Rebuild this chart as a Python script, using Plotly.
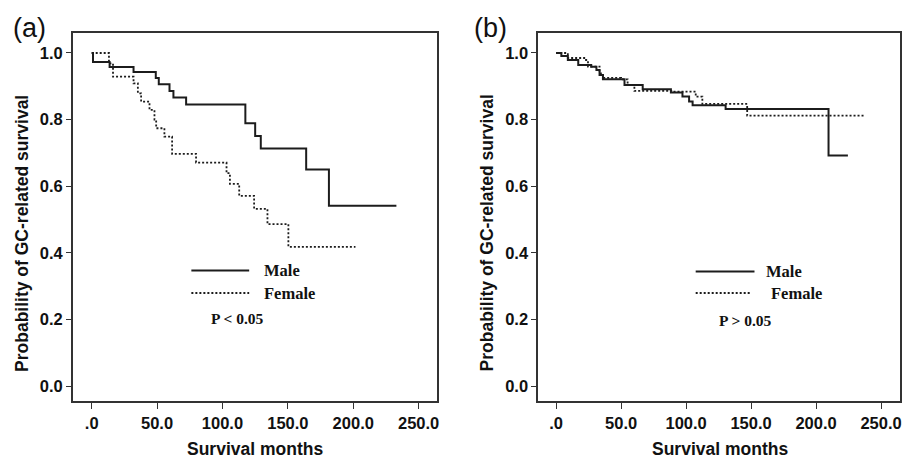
import plotly.graph_objects as go

# ---- data ----
a_male_t = [0, 1, 13.7, 32, 49, 51.3, 59.5, 62.5, 72.2, 117.5, 125, 129.3, 164, 181.4, 233]
a_male_s = [1.0, 0.973, 0.958, 0.943, 0.925, 0.906, 0.886, 0.866, 0.845, 0.789, 0.751, 0.713, 0.65, 0.541, 0.541]

a_female_t = [0, 13.2, 16.3, 32, 35.3, 37.8, 44.2, 48, 49.3, 55.6, 61.5, 79.8, 103.1, 105.7, 112.8, 124.2, 134.4, 150.4, 201.7]
a_female_s = [1.0, 0.969, 0.929, 0.909, 0.879, 0.854, 0.829, 0.80, 0.774, 0.749, 0.697, 0.671, 0.639, 0.607, 0.571, 0.532, 0.486, 0.418, 0.418]

b_male_t = [0, 4, 9, 17, 27, 31, 33.4, 36, 52.6, 66.6, 88.3, 97.2, 102.3, 105, 130.4, 209.6, 224.5]
b_male_s = [1.0, 0.991, 0.979, 0.964, 0.959, 0.949, 0.934, 0.921, 0.904, 0.891, 0.881, 0.869, 0.854, 0.843, 0.832, 0.692, 0.692]

b_female_t = [0, 9, 23, 24.5, 33.4, 36, 50, 55, 60.2, 89.6, 107.4, 112.5, 147, 237.6]
b_female_s = [1.0, 0.985, 0.979, 0.959, 0.939, 0.925, 0.921, 0.904, 0.886, 0.884, 0.869, 0.847, 0.812, 0.812]

x_tickvals = [0, 50, 100, 150, 200, 250]
x_ticktext = [".0", "50.0", "100.0", "150.0", "200.0", "250.0"]
y_tickvals = [0.0, 0.2, 0.4, 0.6, 0.8, 1.0]

W, H = 907, 458
LINE = "#1c1c1c"
SANS = "Liberation Sans, Arial, sans-serif"
SERIF = "Liberation Serif, Times New Roman, serif"


def px(x):
    return x / W


def py(y):
    return 1 - y / H


fig = go.Figure()

fig.add_trace(go.Scatter(x=a_male_t, y=a_male_s, mode="lines", line_shape="hv",
                         line=dict(color=LINE, width=2), xaxis="x", yaxis="y", name="Male"))
fig.add_trace(go.Scatter(x=a_female_t, y=a_female_s, mode="lines", line_shape="hv",
                         line=dict(color=LINE, width=1.8, dash="2px,2px"), xaxis="x", yaxis="y", name="Female"))
fig.add_trace(go.Scatter(x=b_male_t, y=b_male_s, mode="lines", line_shape="hv",
                         line=dict(color=LINE, width=2), xaxis="x2", yaxis="y2", name="Male"))
fig.add_trace(go.Scatter(x=b_female_t, y=b_female_s, mode="lines", line_shape="hv",
                         line=dict(color=LINE, width=1.8, dash="2px,2px"), xaxis="x2", yaxis="y2", name="Female"))

tickfont = dict(family=SANS, size=16.5, color="#111", weight="bold")
common_x = dict(tickvals=x_tickvals, ticktext=x_ticktext, ticks="outside", ticklen=6,
                tickcolor="#333", tickwidth=1.3, showline=True, linecolor="#333", linewidth=1.6,
                mirror=True, showgrid=False, zeroline=False, tickfont=tickfont, fixedrange=True)
common_y = dict(tickvals=y_tickvals, tickformat=".1f", ticks="outside", ticklen=5,
                tickcolor="#333", tickwidth=1.3, showline=True, linecolor="#333", linewidth=1.6,
                mirror=True, showgrid=False, zeroline=False, tickfont=tickfont,
                range=[-0.045, 1.06], fixedrange=True)

ydom = [py(401), py(33)]
fig.update_layout(
    width=W, height=H,
    margin=dict(l=0, r=0, t=0, b=0),
    paper_bgcolor="white", plot_bgcolor="white",
    showlegend=False,
    xaxis=dict(domain=[px(73), px(438)], range=[-14.48, 263.7], anchor="y", **common_x),
    yaxis=dict(domain=ydom, anchor="x", **common_y),
    xaxis2=dict(domain=[px(540), px(903)], range=[-13.8, 264.6], anchor="y2", **common_x),
    yaxis2=dict(domain=ydom, anchor="x2", **common_y),
)

bold = lambda s: "<b>" + s + "</b>"
ann = []
# panel letters
ann.append(dict(text="(a)", x=px(11), y=py(28), xanchor="left", yanchor="middle",
                font=dict(family=SANS, size=27, color="#111")))
ann.append(dict(text="(b)", x=px(474), y=py(28), xanchor="left", yanchor="middle",
                font=dict(family=SANS, size=27, color="#111")))
# axis titles
for cx in (22, 489):
    ann.append(dict(text=bold("Probability of GC-related survival"), x=px(cx), y=py(233),
                    textangle=-90, xanchor="center", yanchor="middle",
                    font=dict(family=SANS, size=17.5, color="#111")))
for cx in (256, 722):
    ann.append(dict(text=bold("Survival months"), x=px(cx), y=py(449),
                    xanchor="center", yanchor="middle",
                    font=dict(family=SANS, size=17.5, color="#111")))

shapes = []
# legend (a)
shapes.append(dict(type="line", xref="paper", yref="paper", x0=px(192), x1=px(250), y0=py(270.5), y1=py(270.5),
                   line=dict(color=LINE, width=2)))
shapes.append(dict(type="line", xref="paper", yref="paper", x0=px(192), x1=px(250), y0=py(293), y1=py(293),
                   line=dict(color=LINE, width=1.8, dash="2px,2px")))
ann.append(dict(text=bold("Male"), x=px(263), y=py(270), xanchor="left", yanchor="middle",
                font=dict(family=SERIF, size=16.5, color="#111")))
ann.append(dict(text=bold("Female"), x=px(263), y=py(293), xanchor="left", yanchor="middle",
                font=dict(family=SERIF, size=16.5, color="#111")))
ann.append(dict(text=bold("P &lt; 0.05"), x=px(238), y=py(318), xanchor="center", yanchor="middle",
                font=dict(family=SERIF, size=15.5, color="#111")))
# legend (b)
shapes.append(dict(type="line", xref="paper", yref="paper", x0=px(698), x1=px(757), y0=py(271.5), y1=py(271.5),
                   line=dict(color=LINE, width=2)))
shapes.append(dict(type="line", xref="paper", yref="paper", x0=px(698), x1=px(753), y0=py(293), y1=py(293),
                   line=dict(color=LINE, width=1.8, dash="2px,2px")))
ann.append(dict(text=bold("Male"), x=px(767), y=py(271), xanchor="left", yanchor="middle",
                font=dict(family=SERIF, size=16.5, color="#111")))
ann.append(dict(text=bold("Female"), x=px(772), y=py(293), xanchor="left", yanchor="middle",
                font=dict(family=SERIF, size=16.5, color="#111")))
ann.append(dict(text=bold("P &gt; 0.05"), x=px(748), y=py(320), xanchor="center", yanchor="middle",
                font=dict(family=SERIF, size=15.5, color="#111")))

for a in ann:
    a.update(xref="paper", yref="paper", showarrow=False)
fig.update_layout(annotations=ann, shapes=shapes)

fig.write_html("out.html", config={"displayModeBar": False},
               post_script="document.body.style.margin='0';document.body.style.overflow='hidden';")
